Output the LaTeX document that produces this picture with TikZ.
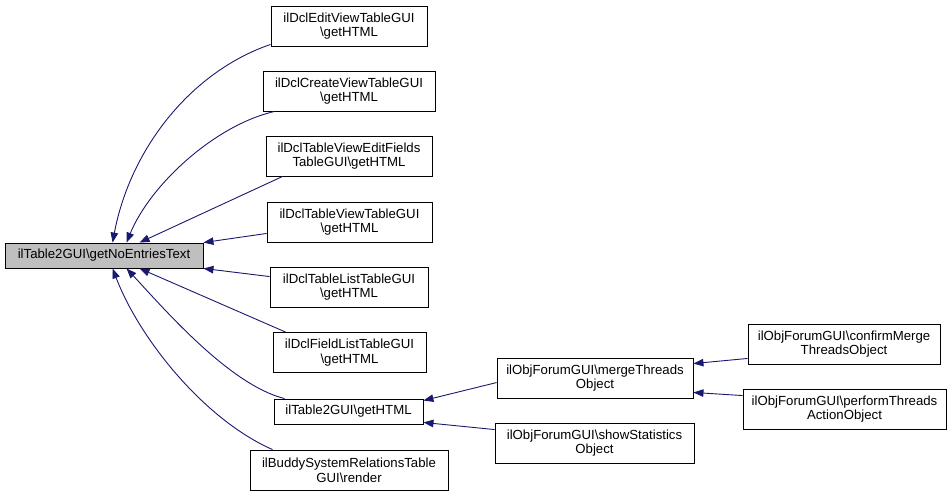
\documentclass[tikz,border=0pt]{standalone}
\usepackage{fontspec}
\setmainfont{Liberation Sans}
\usetikzlibrary{arrows.meta}
\definecolor{edgeblue}{HTML}{191970}
\definecolor{mainfill}{HTML}{BFBFBF}
\begin{document}
\begin{tikzpicture}[x=1pt,y=-1pt,
  box/.style={draw=black, line width=0.9pt, inner sep=0pt, align=center,
    font=\fontsize{13.2}{14.7}\selectfont, minimum height=40pt},
  onebox/.style={box, minimum height=25pt},
  link/.style={draw=edgeblue, line width=0.9pt, -{Triangle[length=10pt,width=7.5pt]}}]
\useasboundingbox (0,0) rectangle (952,496);
\fill[white] (0,0) rectangle (952,496);
\node[onebox, fill=mainfill, minimum width=198pt] (main) at (104,255.5) {ilTable2GUI\textbackslash getNoEntriesText};
\node[box, minimum width=156pt] (e1) at (349,26) {ilDclEditViewTableGUI\\\textbackslash getHTML};
\node[box, minimum width=172pt] (e2) at (349,91) {ilDclCreateViewTableGUI\\\textbackslash getHTML};
\node[box, minimum width=166pt] (e3) at (349,156) {ilDclTableViewEditFields\\TableGUI\textbackslash getHTML};
\node[box, minimum width=165pt] (e4) at (349.5,222) {ilDclTableViewTableGUI\\\textbackslash getHTML};
\node[box, minimum width=158pt] (e5) at (349,287) {ilDclTableListTableGUI\\\textbackslash getHTML};
\node[box, minimum width=153pt] (e6) at (349.5,352.5) {ilDclFieldListTableGUI\\\textbackslash getHTML};
\node[onebox, minimum width=149pt] (e7) at (348.5,411.5) {ilTable2GUI\textbackslash getHTML};
\node[box, minimum width=198pt] (e8) at (349,470) {ilBuddySystemRelationsTable\\GUI\textbackslash render};
\node[box, minimum width=196pt] (m1) at (595,378) {ilObjForumGUI\textbackslash mergeThreads\\Object};
\node[box, minimum width=199pt] (m2) at (594.5,443) {ilObjForumGUI\textbackslash showStatistics\\Object};
\node[box, minimum width=192pt] (r1) at (844,344) {ilObjForumGUI\textbackslash confirmMerge\\ThreadsObject};
\node[box, minimum width=203pt] (r2) at (844.5,409) {ilObjForumGUI\textbackslash performThreads\\ActionObject};

\draw[link] ([yshift=2pt]e1.south west) .. controls (190,72) and (130,150) .. ([xshift=108pt]main.north west);
\draw[link] ([xshift=12pt]e2.south west) .. controls (215,125) and (150,185) .. ([xshift=122pt]main.north west);
\draw[link] ([xshift=17pt]e3.south west) -- ([xshift=135pt]main.north west);
\draw[link] ([yshift=9pt]e4.south west) -- (main.north east);
\draw[link] ([yshift=-10pt]e5.north west) -- (main.south east);
\draw[link] ([xshift=13pt]e6.north west) -- ([xshift=135pt]main.south west);
\draw[link] ([xshift=11pt]e7.north west) .. controls (230,385) and (165,310) .. ([xshift=122pt]main.south west);
\draw[link] ([xshift=23pt]e8.north west) .. controls (205,420) and (140,340) .. ([xshift=108pt]main.south west);
\draw[link] ([yshift=-25pt]m1.north west) -- ([yshift=-2pt]e7.north east);
\draw[link] ([yshift=-7pt]m2.north west) -- ([yshift=2pt]e7.south east);
\draw[link] ([yshift=6pt]r1.south west) -- ([yshift=-6pt]m1.north east);
\draw[link] ([yshift=-7pt]r2.north west) -- ([yshift=6pt]m1.south east);
\end{tikzpicture}
\end{document}
